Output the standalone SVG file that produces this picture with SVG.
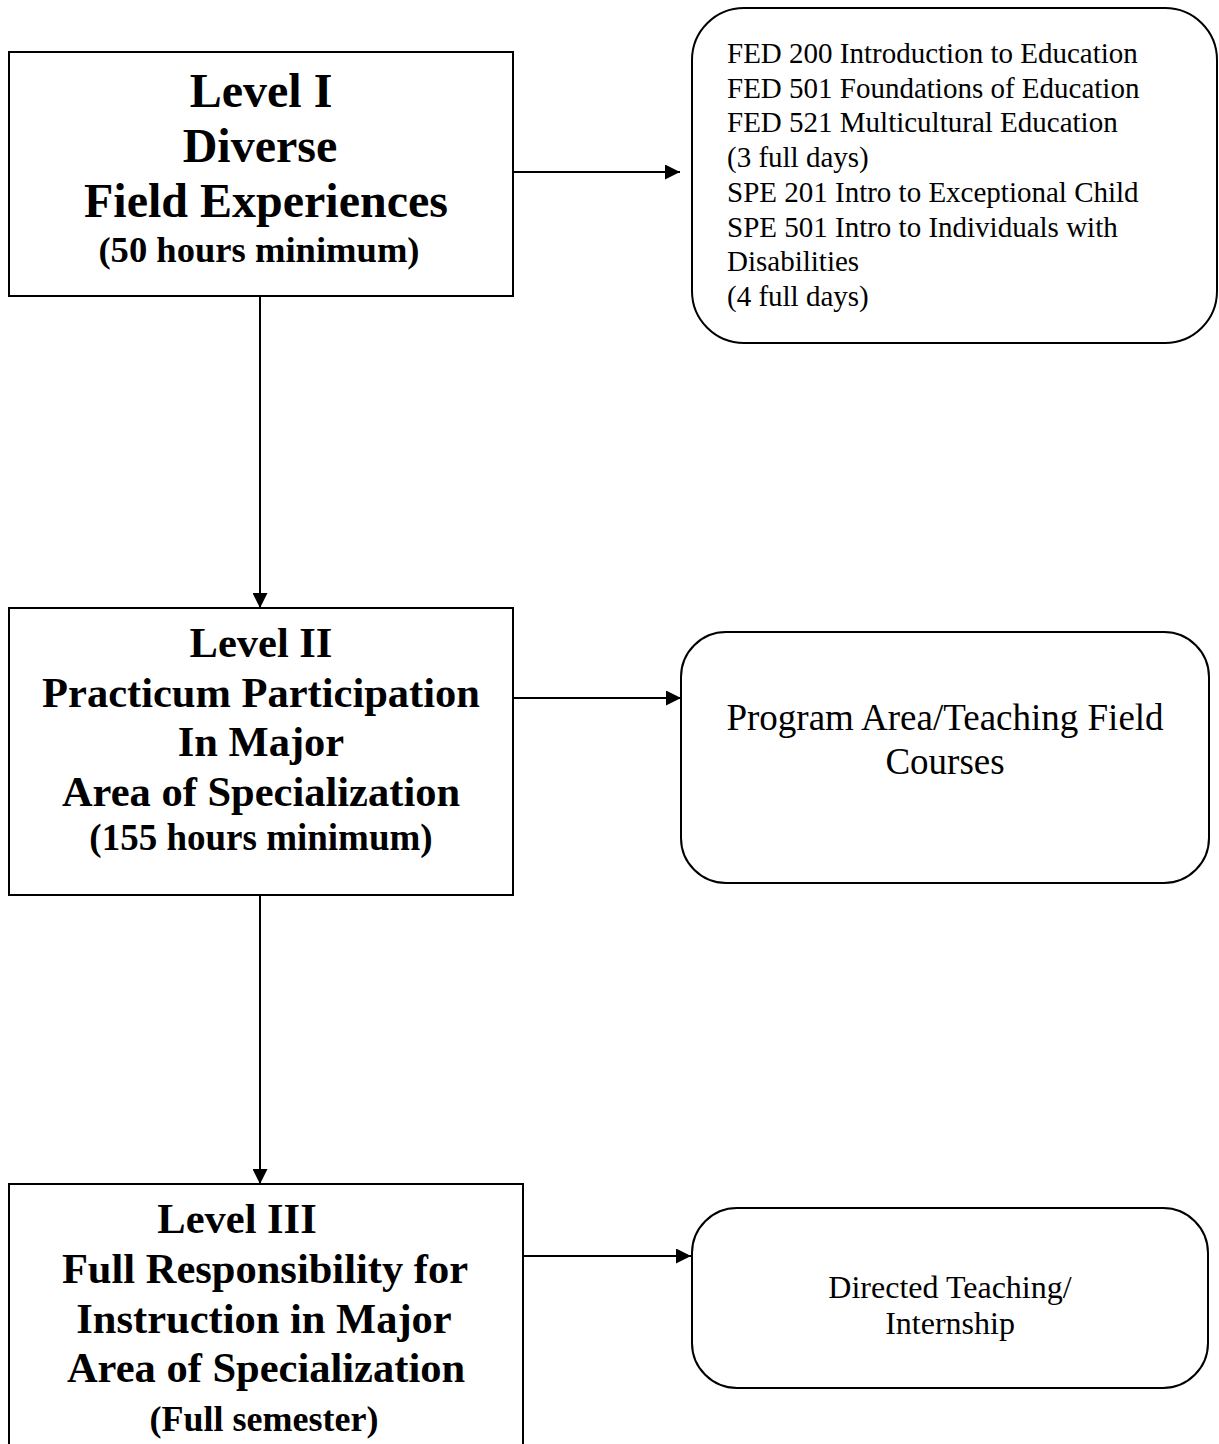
<svg xmlns="http://www.w3.org/2000/svg" width="1219" height="1444" viewBox="0 0 1219 1444">
<style>
.box{fill:#fff;stroke:#000;stroke-width:2}
.conn{fill:none;stroke:#000;stroke-width:2}
.b{font-family:"Liberation Serif","Times New Roman",serif;font-weight:bold;fill:#000;text-anchor:middle}
.r{font-family:"Liberation Serif","Times New Roman",serif;fill:#000}
.c{text-anchor:middle}
</style>
<defs>
<marker id="ah" markerUnits="userSpaceOnUse" markerWidth="15" markerHeight="15" refX="15" refY="7.5" orient="auto">
<path d="M0,0 L15,7.5 L0,15 Z" fill="#000"/>
</marker>
</defs>
<rect width="1219" height="1444" fill="#fff"/>
<g id="connectors">
<line class="conn" x1="513" y1="172" x2="680" y2="172" marker-end="url(#ah)"/>
<line class="conn" x1="513" y1="698" x2="681" y2="698" marker-end="url(#ah)"/>
<line class="conn" x1="523" y1="1256" x2="691" y2="1256" marker-end="url(#ah)"/>
<line class="conn" x1="260" y1="296" x2="260" y2="608" marker-end="url(#ah)"/>
<line class="conn" x1="260" y1="895" x2="260" y2="1184" marker-end="url(#ah)"/>
</g>
<g id="level1">
<rect class="box" x="9" y="52" width="504" height="244"/>
<text class="b" font-size="48" x="261" y="107">Level I</text>
<text class="b" font-size="48" x="260" y="162">Diverse</text>
<text class="b" font-size="48" x="266" y="217">Field Experiences</text>
<text class="b" font-size="36.6" x="259" y="262">(50 hours minimum)</text>
</g>
<g id="courses1">
<rect class="box" x="692" y="8" width="525" height="335" rx="52" ry="52"/>
<text class="r" font-size="29" x="727" y="63">FED 200 Introduction to Education</text>
<text class="r" font-size="29" x="727" y="97.7">FED 501 Foundations of Education</text>
<text class="r" font-size="29" x="727" y="132.4">FED 521 Multicultural Education</text>
<text class="r" font-size="29" x="727" y="167.1">(3 full days)</text>
<text class="r" font-size="29" x="727" y="201.8">SPE 201 Intro to Exceptional Child</text>
<text class="r" font-size="29" x="727" y="236.5">SPE 501 Intro to Individuals with</text>
<text class="r" font-size="29" x="727" y="271.2">Disabilities</text>
<text class="r" font-size="29" x="727" y="305.9">(4 full days)</text>
</g>
<g id="level2">
<rect class="box" x="9" y="608" width="504" height="287"/>
<text class="b" font-size="42.5" x="261" y="657">Level II</text>
<text class="b" font-size="42.5" x="261" y="706.5">Practicum Participation</text>
<text class="b" font-size="42.5" x="261" y="756">In Major</text>
<text class="b" font-size="42.5" x="261" y="805.5">Area of Specialization</text>
<text class="b" font-size="37" x="261" y="850">(155 hours minimum)</text>
</g>
<g id="courses2">
<rect class="box" x="681" y="632" width="528" height="251" rx="45" ry="45"/>
<text class="r c" font-size="37" x="945" y="730">Program Area/Teaching Field</text>
<text class="r c" font-size="37" x="945" y="774">Courses</text>
</g>
<g id="level3">
<rect class="box" x="9" y="1184" width="514" height="300"/>
<text class="b" font-size="42.5" x="237" y="1233">Level III</text>
<text class="b" font-size="42.5" x="265" y="1283">Full Responsibility for</text>
<text class="b" font-size="42.5" x="264" y="1333">Instruction in Major</text>
<text class="b" font-size="42.5" x="266" y="1382">Area of Specialization</text>
<text class="b" font-size="36" x="264" y="1431">(Full semester)</text>
</g>
<g id="internship">
<rect class="box" x="692" y="1208" width="516" height="180" rx="45" ry="45"/>
<text class="r c" font-size="32" x="950" y="1298">Directed Teaching/</text>
<text class="r c" font-size="32" x="950" y="1334">Internship</text>
</g>
</svg>
